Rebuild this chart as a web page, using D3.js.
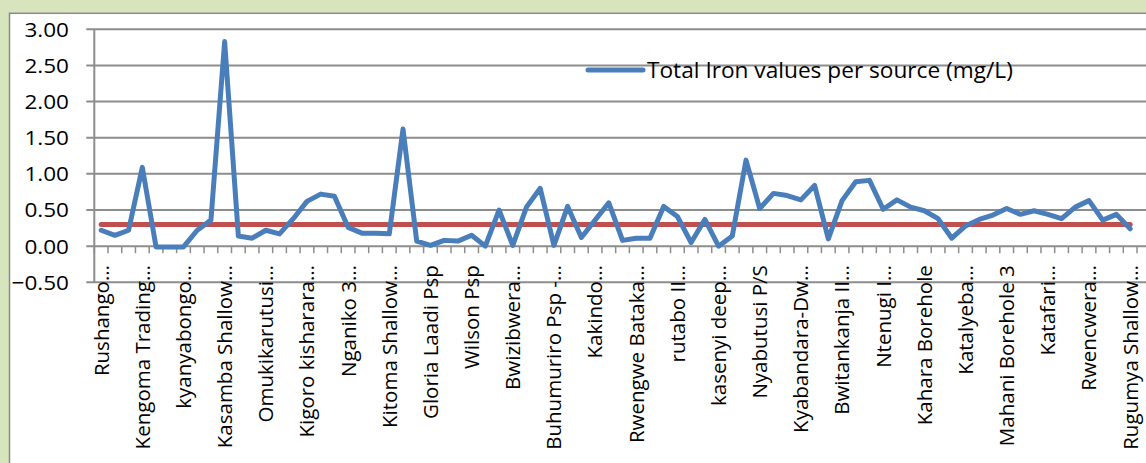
<!DOCTYPE html>
<html><head><meta charset="utf-8">
<script src="https://cdn.jsdelivr.net/npm/d3@7"></script>
<style>html,body{margin:0;padding:0;background:#d7e4bd;overflow:hidden}</style>
</head><body>
<svg id="c" width="1146" height="463"></svg>
<script>
// ---- data ----
const categoryLabels = ["Rushango…","Kengoma Trading…","kyanyabongo…","Kasamba Shallow…","Omukikarutusi…","Kigoro kisharara…","Nganiko 3…","Kitoma Shallow…","Gloria Laadi Psp","Wilson Psp","Bwizibwera…","Buhumuriro Psp -…","Kakindo…","Rwengwe Bataka…","rutabo II…","kasenyi deep…","Nyabutusi P/S","Kyabandara-Dw…","Bwitankanja II…","Ntenugi I…","Kahara Borehole","Katalyeba…","Mahani Borehole 3","Katafari…","Rwencwera…","Rugumya Shallow…"];
const labelEvery = 3;
const categoryCount = 77; // last row blank
const ironValues = [0.22,0.15,0.22,1.09,-0.01,-0.01,-0.01,0.22,0.36,2.83,
  0.14,0.11,0.22,0.17,0.38,0.62,0.72,0.69,0.26,0.18,
  0.18,0.17,1.62,0.07,0.01,0.08,0.07,0.15,0.00,0.50,
  0.01,0.54,0.80,0.01,0.55,0.12,0.36,0.60,0.08,0.11,
  0.11,0.55,0.41,0.05,0.37,0.00,0.14,1.19,0.52,0.73,
  0.70,0.64,0.84,0.10,0.63,0.89,0.91,0.51,0.64,0.54,
  0.49,0.38,0.11,0.28,0.37,0.43,0.52,0.44,0.49,0.44,
  0.38,0.54,0.63,0.36,0.44,0.24];
const guidelineLimit = 0.3;
const yTicks = [-0.5,0,0.5,1,1.5,2,2.5,3];
const legendLabel = "Total Iron values per source (mg/L)";

// ---- layout ----
const W = 1146, H = 463;
const plot = {left: 94.3, right: 94.3 + 77*13.72, top: 29.3, bottom: 282.3};
const font = "'Open Sans', sans-serif";
const svg = d3.select("#c");

const x = d3.scaleBand().domain(d3.range(categoryCount)).range([plot.left, plot.right]).padding(0);
const y = d3.scaleLinear().domain([-0.5, 3]).range([plot.bottom, plot.top]);
const cx = i => x(i) + x.bandwidth()/2;

// chart area
svg.append("rect").attr("x", 9.5).attr("y", 13.3).attr("width", W).attr("height", H)
  .attr("fill", "#fff").attr("stroke", "#8a8a8a").attr("stroke-width", 1.5);

// gridlines + y labels
const gridColor = "#8d8d8d";
svg.append("g").selectAll("line").data(yTicks).join("line")
  .attr("x1", plot.left - 8).attr("x2", plot.right)
  .attr("y1", d => y(d)).attr("y2", d => y(d))
  .attr("stroke", gridColor).attr("stroke-width", 2);
svg.append("g").selectAll("text").data(yTicks).join("text")
  .attr("transform", d => `translate(69,${y(d)}) scale(1.1,1)`)
  .attr("dy", "0.36em")
  .attr("text-anchor", "end").attr("font-family", font).attr("font-size", 20.5)
  .attr("fill", "#000").text(d => d3.format(".2f")(d));

// y axis line
svg.append("line").attr("x1", plot.left).attr("x2", plot.left)
  .attr("y1", y(3)).attr("y2", y(-0.5)).attr("stroke", gridColor).attr("stroke-width", 2);

// category ticks on zero line
svg.append("g").selectAll("line").data(d3.range(categoryCount + 1)).join("line")
  .attr("x1", k => plot.left + k*x.step()).attr("x2", k => plot.left + k*x.step())
  .attr("y1", y(0)).attr("y2", y(0) + 7)
  .attr("stroke", gridColor).attr("stroke-width", 1.5);

// category labels
svg.append("g").selectAll("text").data(categoryLabels).join("text")
  .attr("transform", (d, j) => `translate(${cx(j*labelEvery)},${y(0) + 19}) rotate(-90)`)
  .attr("dy", "0.36em").attr("text-anchor", "end")
  .attr("font-family", font).attr("font-size", 20.5).attr("fill", "#000")
  .text(d => d);

// guideline
svg.append("line")
  .attr("x1", cx(0)).attr("x2", cx(ironValues.length - 1))
  .attr("y1", y(guidelineLimit)).attr("y2", y(guidelineLimit))
  .attr("stroke", "#c0504d").attr("stroke-width", 5).attr("stroke-linecap", "round");

// iron line
const line = d3.line().x((d, i) => cx(i)).y(d => y(d));
svg.append("path").datum(ironValues).attr("d", line)
  .attr("fill", "none").attr("stroke", "#4a7ebb").attr("stroke-width", 5)
  .attr("stroke-linejoin", "round").attr("stroke-linecap", "round");

// legend
const lg = svg.append("g").attr("transform", "translate(588,70)");
lg.append("line").attr("x1", 0).attr("x2", 55).attr("stroke", "#4a7ebb")
  .attr("stroke-width", 5).attr("stroke-linecap", "round");
lg.append("text").attr("transform", "translate(59,0) scale(1.03,1)").attr("dy", "0.36em")
  .attr("font-family", font).attr("font-size", 22).attr("fill", "#000").text(legendLabel);
</script>
</body></html>
